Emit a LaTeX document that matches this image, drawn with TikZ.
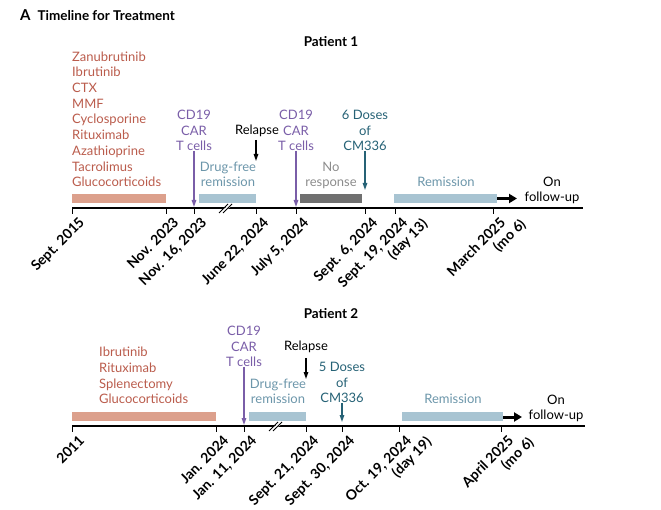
\documentclass[tikz,border=0pt]{standalone}
\usepackage{fontspec}
\setmainfont{Lato}
\usetikzlibrary{arrows.meta}
\definecolor{drugred}{RGB}{186,92,76}
\definecolor{drugbar}{RGB}{220,160,140}
\definecolor{carpurple}{RGB}{122,94,168}
\definecolor{freeblue}{RGB}{168,196,210}
\definecolor{freetext}{RGB}{108,150,170}
\definecolor{doseteal}{RGB}{38,98,118}
\definecolor{nobar}{RGB}{112,112,112}
\definecolor{notext}{RGB}{140,140,140}
\tikzset{
  lbl/.style={font=\fontsize{13}{15.7}\selectfont, inner sep=0pt, align=center, text depth=0pt, anchor=south},
  druglist/.style={lbl, align=left, anchor=south west, text=drugred},
  ticklab/.style={font=\bfseries\fontsize{14}{15.5}\selectfont, rotate=45, anchor=north east, inner sep=0pt, align=right},
  title/.style={font=\bfseries\fontsize{13.5}{15}\selectfont, inner sep=0pt, anchor=base west},
  marker/.style={line width=1.3pt, -{Triangle[length=7pt,width=4.5pt]}},
  onward/.style={line width=3pt, -{Triangle[length=8pt,width=9pt]}},
}
\begin{document}
\begin{tikzpicture}[x=1pt,y=-1pt]
\useasboundingbox (0,0) rectangle (661,510);

\node[title] (head) at (20,21) {{\fontsize{15}{15}\selectfont A}\hspace{7pt}Timeline for Treatment};

%Patient 1
\node[title, anchor=base] (p1) at (331,47) {Patient 1};

\fill[drugbar] (72,194) rectangle (166,203);
\fill[freeblue] (199,194) rectangle (256,203);
\fill[nobar] (300,194) rectangle (362,203);
\fill[freeblue] (394,194) rectangle (497,203);

\draw[line width=1.2pt] (72,208) -- (583,208);
\fill[white] (222,210) -- (226,210) -- (232,206) -- (228,206) -- cycle;
\draw[line width=0.8pt] (219,213) -- (228,204);
\draw[line width=0.8pt] (223,213) -- (232,204);

\draw[line width=1pt] (72,207.5) -- (72,214);
\draw[line width=1pt] (166,208) -- (166,214);
\draw[line width=1pt] (194,208) -- (194,214);
\draw[line width=1pt] (256,208) -- (256,214);
\draw[line width=1pt] (296,208) -- (296,214);
\draw[line width=1pt] (365,208) -- (365,214);
\draw[line width=1pt] (395,208) -- (395,214);
\draw[line width=1pt] (493,208) -- (493,214);

\node[ticklab] (t11) at (78,216) {Sept. 2015};
\node[ticklab] (t12) at (172,216) {Nov. 2023};
\node[ticklab] (t13) at (200,216) {Nov. 16, 2023};
\node[ticklab] (t14) at (262,216) {June 22, 2024};
\node[ticklab] (t15) at (302,216) {July 5, 2024};
\node[ticklab] (t16) at (371,216) {Sept. 6, 2024};
\node[ticklab] (t17) at (401,216) {Sept. 19, 2024\\(day 13)\hspace*{-13pt}};
\node[ticklab] (t18) at (499,216) {March 2025\\(mo 6)\hspace*{-13pt}};

\node[druglist] (d1) at (72,187) {Zanubrutinib\\Ibrutinib\\CTX\\MMF\\Cyclosporine\\Rituximab\\Azathioprine\\Tacrolimus\\Glucocorticoids};

\node[lbl, text=carpurple] (car11) at (194,151) {CD19\\CAR\\T cells};
\coordinate (car11e) at (194,207);
\draw[marker, carpurple] (car11) -- (car11e);

\node[lbl] (rel1) at (257,135) {Relapse};
\coordinate (rel1s) at (256,140);
\coordinate (rel1e) at (256,161);
\draw[marker] (rel1s) -- (rel1e);

\node[lbl, text=freetext] (free1) at (228,187) {Drug-free\\remission};

\node[lbl, text=carpurple] (car12) at (296,151) {CD19\\CAR\\T cells};
\coordinate (car12e) at (296,207);
\draw[marker, carpurple] (car12) -- (car12e);

\node[lbl, text=notext] (nr1) at (331,187) {No\\response};

\node[lbl, text=doseteal] (dose1) at (365,151) {6 Doses\\of\\CM336};
\coordinate (dose1e) at (365,190);
\draw[marker, doseteal] (dose1) -- (dose1e);

\node[lbl, text=freetext] (rem1) at (446,187) {Remission};

\coordinate (fu1s) at (497,198.5);
\coordinate (fu1e) at (517,198.5);
\draw[onward] (fu1s) -- (fu1e);
\node[lbl] (fu1) at (552,202) {On\\follow-up};

%Patient 2
\node[title, anchor=base] (p2) at (331,319) {Patient 2};

\fill[drugbar] (72,412) rectangle (216,421);
\fill[freeblue] (249,412) rectangle (306,421);
\fill[freeblue] (402,412) rectangle (503,421);

\draw[line width=1.2pt] (72,426) -- (585,426);
\fill[white] (272,428) -- (276,428) -- (282,424) -- (278,424) -- cycle;
\draw[line width=0.8pt] (269,431) -- (278,422);
\draw[line width=0.8pt] (273,431) -- (282,422);

\draw[line width=1pt] (72,425.5) -- (72,432);
\draw[line width=1pt] (216,426) -- (216,432);
\draw[line width=1pt] (244,426) -- (244,432);
\draw[line width=1pt] (306,426) -- (306,432);
\draw[line width=1pt] (342,426) -- (342,432);
\draw[line width=1pt] (399,426) -- (399,432);
\draw[line width=1pt] (501,426) -- (501,432);

\node[ticklab] (t21) at (78,434) {2011};
\node[ticklab] (t22) at (222,434) {Jan. 2024};
\node[ticklab] (t23) at (250,434) {Jan. 11, 2024};
\node[ticklab] (t24) at (312,434) {Sept. 21, 2024};
\node[ticklab] (t25) at (348,434) {Sept. 30, 2024};
\node[ticklab] (t26) at (405,434) {Oct. 19, 2024\\(day 19)\hspace*{-13pt}};
\node[ticklab] (t27) at (507,434) {April 2025\\(mo 6)\hspace*{-13pt}};

\node[druglist] (d2) at (99,404) {Ibrutinib\\Rituximab\\Splenectomy\\Glucocorticoids};

\node[lbl, text=carpurple] (car21) at (244,367) {CD19\\CAR\\T cells};
\coordinate (car21e) at (244,425);
\draw[marker, carpurple] (car21) -- (car21e);

\node[lbl] (rel2) at (306,351) {Relapse};
\coordinate (rel2s) at (306,358);
\coordinate (rel2e) at (306,379);
\draw[marker] (rel2s) -- (rel2e);

\node[lbl, text=freetext] (free2) at (278,404) {Drug-free\\remission};

\node[lbl, text=doseteal] (dose2) at (342,403) {5 Doses\\of\\CM336};
\coordinate (dose2e) at (342,422);
\draw[marker, doseteal] (dose2) -- (dose2e);

\node[lbl, text=freetext] (rem2) at (453,404) {Remission};

\coordinate (fu2s) at (503,417);
\coordinate (fu2e) at (522,417);
\draw[onward] (fu2s) -- (fu2e);
\node[lbl] (fu2) at (556,420) {On\\follow-up};

\end{tikzpicture}
\end{document}
